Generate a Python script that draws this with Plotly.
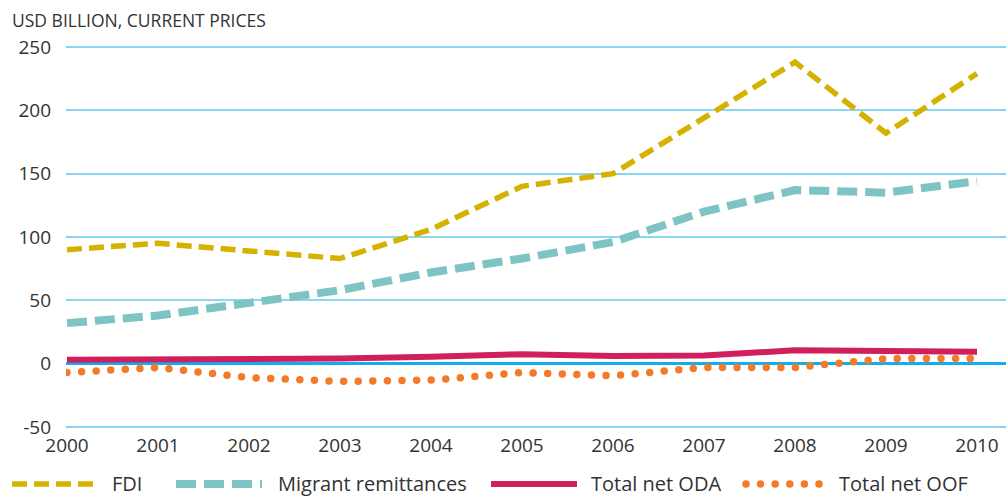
import plotly.graph_objects as go

years = [2000, 2001, 2002, 2003, 2004, 2005, 2006, 2007, 2008, 2009, 2010]
fdi = [90, 95, 89, 83, 106, 140, 150, 194, 238, 182, 229]
remittances = [32, 38, 48, 58, 72, 83, 96, 120, 137, 135, 144]
oda = [3, 3.5, 3, 4, 5.5, 7.5, 6, 6.5, 10.5, 10, 9.5]
oof = [-7, -3, -11, -14, -13, -7, -9.5, -3, -3, 4, 4]

series_names = ["FDI", "Migrant remittances", "Total net ODA", "Total net OOF"]
colors = ["#D5B100", "#7FC4C5", "#CF1F5F", "#F47A2A"]
y_ticks = [-50, 0, 50, 100, 150, 200, 250]
title_text = "USD BILLION, CURRENT PRICES"

FONT = "Open Sans, Noto Sans, sans-serif"
TXT = "#333333"

W, H = 1006, 496
ML, MR, MT, MB = 66, 0, 40, 64
PW = W - ML - MR
PH = H - MT - MB

fig = go.Figure()
styles = [
    dict(width=5.5, dash="15px,7px"),
    dict(width=8, dash="20px,8px"),
    dict(width=6, dash="solid"),
    dict(width=7.5, dash="2px,12px"),
]
for name, vals, col, st in zip(series_names, [fdi, remittances, oda, oof], colors, styles):
    fig.add_trace(go.Scatter(x=years, y=vals, mode="lines", name=name,
                             line=dict(color=col, width=st["width"], dash=st["dash"]),
                             showlegend=False, hoverinfo="skip"))

px_per_year = 91.0
x0 = 2000 - 1 / px_per_year
x1 = x0 + PW / px_per_year
px_per_unit = 380 / 300.0
y_top = 250 + 7 / px_per_unit
y_bot = y_top - PH / px_per_unit

fig.update_xaxes(range=[x0, x1], tickmode="array", tickvals=years,
                 ticktext=[str(y) for y in years], showgrid=False, zeroline=False,
                 showline=False, ticks="", tickfont=dict(family=FONT, size=19, color=TXT),
                 ticklabelstandoff=0, fixedrange=True)
fig.update_yaxes(range=[y_bot, y_top], tickmode="array", tickvals=y_ticks,
                 ticktext=[str(v) for v in y_ticks],
                 showgrid=True, gridcolor="#8AD6F5", gridwidth=1.5,
                 zeroline=True, zerolinecolor="#12AEEB", zerolinewidth=2.5,
                 showline=False, ticks="", tickfont=dict(family=FONT, size=19, color=TXT),
                 ticklabelstandoff=14, fixedrange=True)

fig.add_annotation(text=title_text, xref="paper", yref="paper",
                   x=(10 - ML) / PW, y=(H - MB - 20) / PH, xanchor="left", yanchor="middle",
                   showarrow=False, font=dict(family=FONT, size=17.5, color=TXT))


def px_x(p):
    return (p - ML) / PW


def px_y(p):
    return (H - MB - p) / PH


leg_y = 483
legend_items = [
    (12, 97, 111),
    (176, 262, 277),
    (491, 577, 590),
    (746, 826, 838),
]
for (lx0, lx1, tx), name, col, st in zip(legend_items, series_names, colors, styles):
    fig.add_shape(type="line", xref="paper", yref="paper",
                  x0=px_x(lx0), x1=px_x(lx1), y0=px_y(leg_y + 1), y1=px_y(leg_y + 1),
                  line=dict(color=col, width=st["width"], dash=st["dash"]))
    fig.add_annotation(text=name, xref="paper", yref="paper", x=px_x(tx), y=px_y(leg_y),
                       xanchor="left", yanchor="middle", showarrow=False, borderpad=0,
                       font=dict(family=FONT, size=20, color=TXT))

fig.update_layout(width=W, height=H, margin=dict(l=ML, r=MR, t=MT, b=MB),
                  paper_bgcolor="white", plot_bgcolor="white", showlegend=False)

post = """
document.body.style.margin = '0';
document.body.style.padding = '0';
var gd = document.getElementById('{plot_id}');
function fixDots(){
  gd.querySelectorAll('path').forEach(function(p){
    var s = (p.style.stroke || '').replace(/\\s/g,'');
    if (s === 'rgb(244,122,42)') {
      p.style.strokeLinecap = 'round';
      p.style.strokeDasharray = '0px,14.6px';
    }
  });
}
fixDots();
if (gd.on) { gd.on('plotly_afterplot', fixDots); }
"""
fig.write_html("out.html", post_script=post, config={"displayModeBar": False})
